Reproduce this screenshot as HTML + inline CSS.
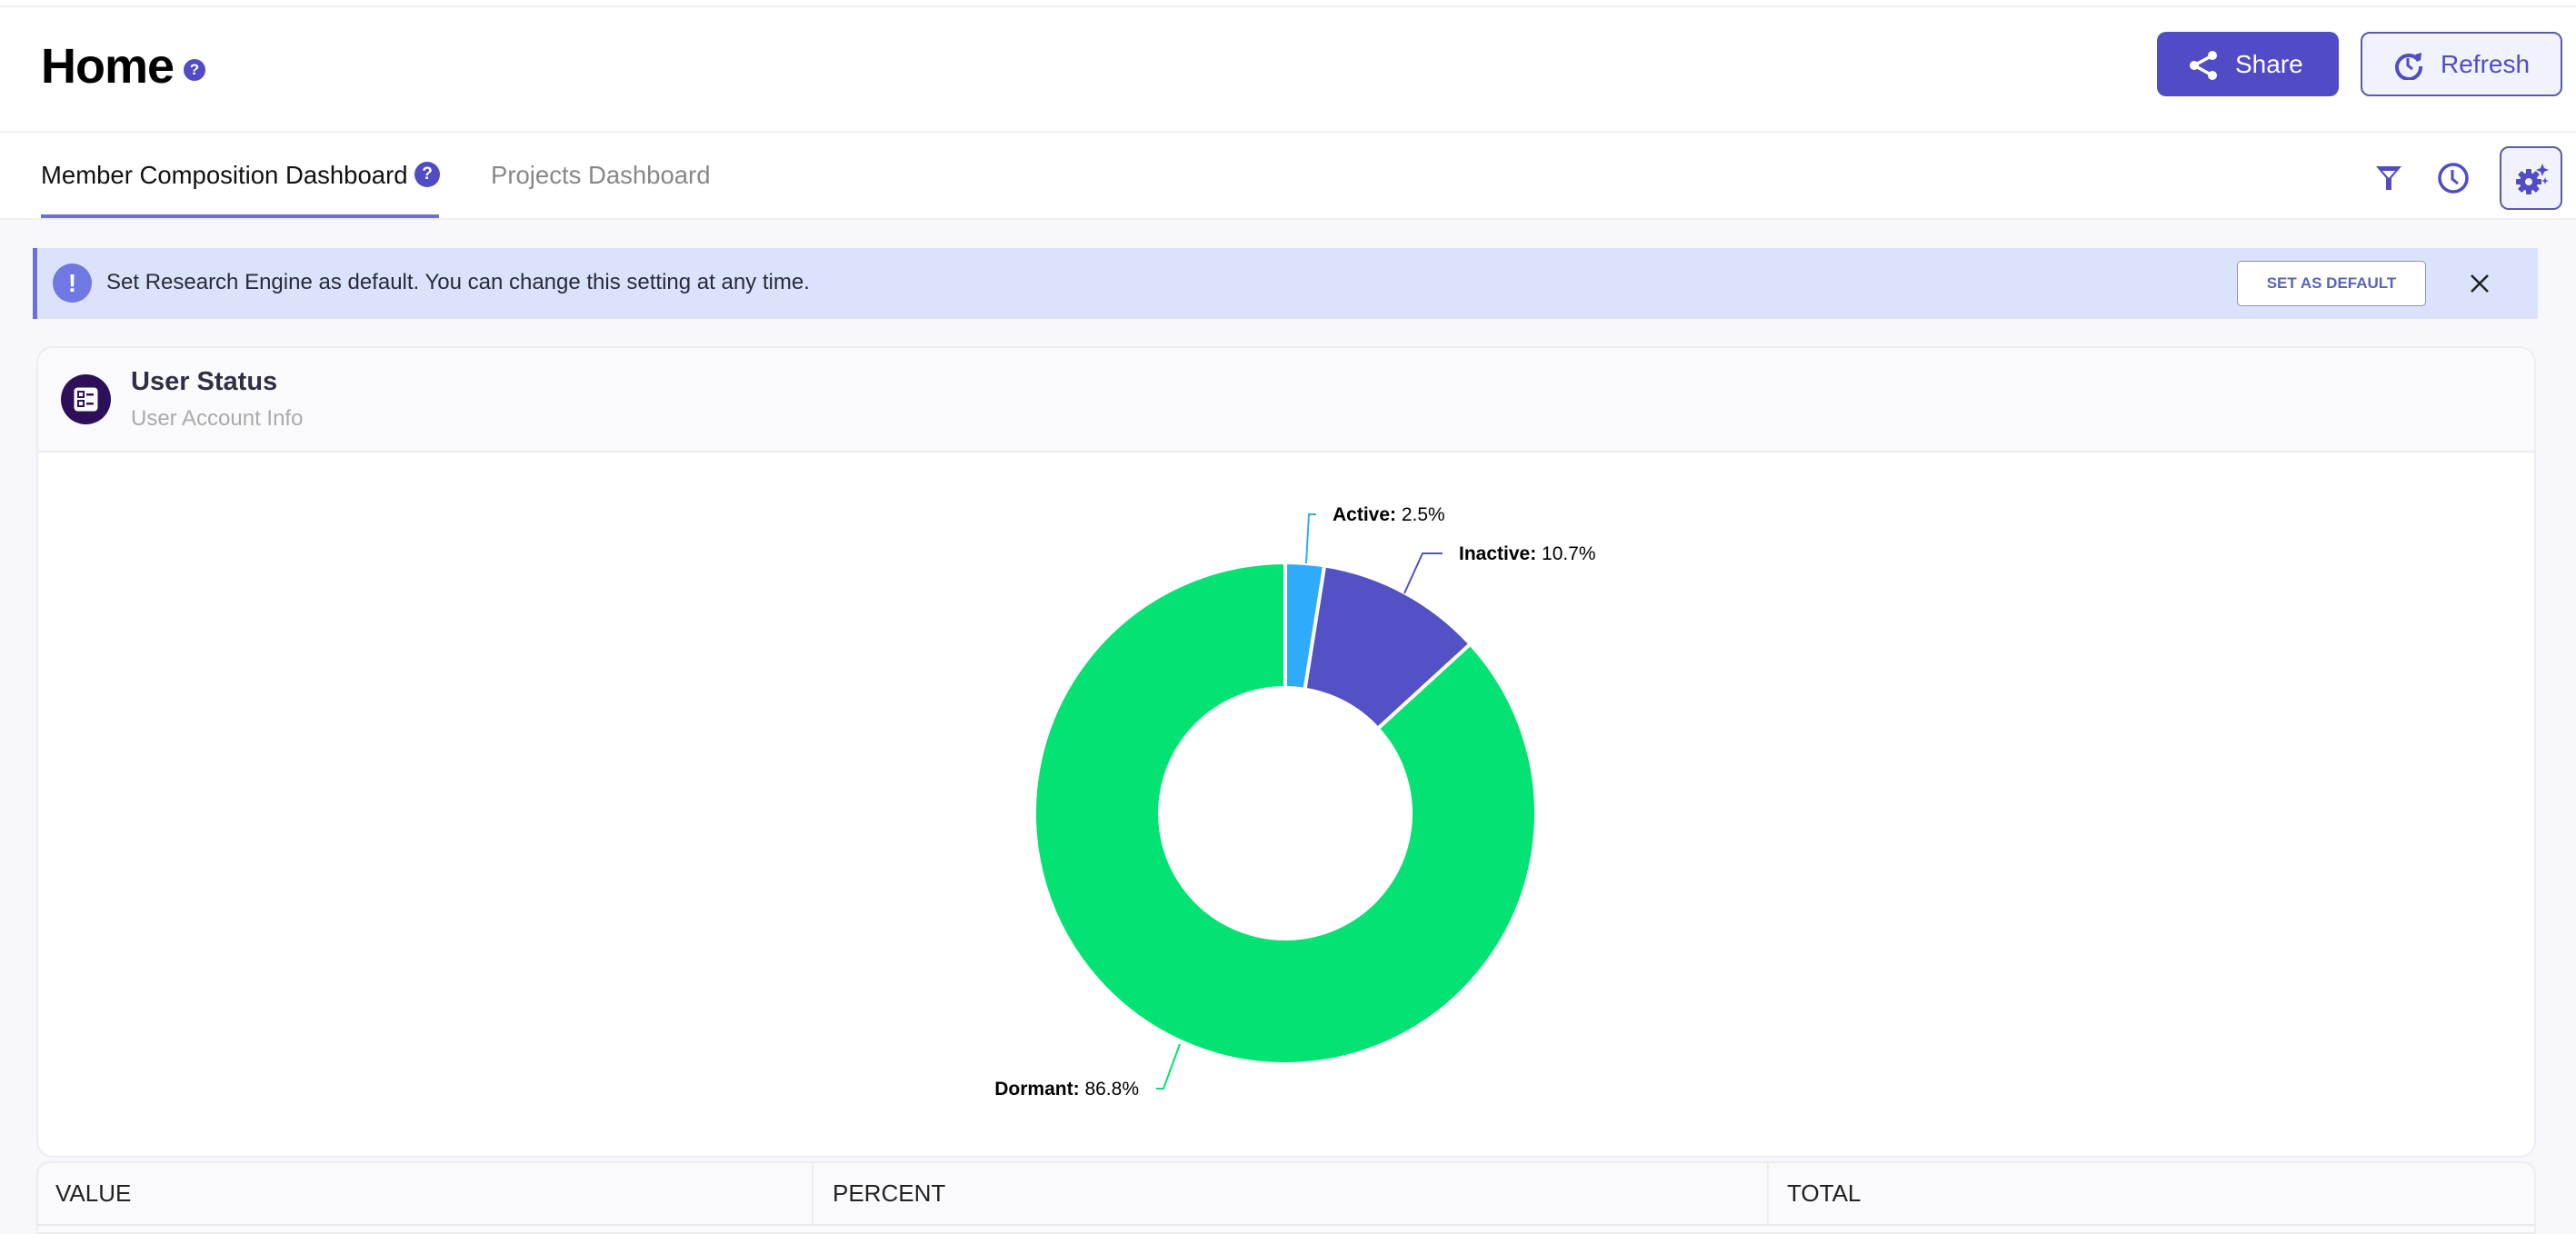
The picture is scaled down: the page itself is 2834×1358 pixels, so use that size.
<!DOCTYPE html>
<html><head><meta charset="utf-8"><style>
*{margin:0;padding:0;box-sizing:border-box}
body{width:2834px;height:1356px;overflow:hidden;background:#f8f8fc;font-family:"Liberation Sans",sans-serif;position:relative}
.abs{position:absolute}
.help{display:inline-block;border-radius:50%;background:#524bc6;color:#fff;font-weight:bold;text-align:center}
</style></head><body>
<div class="abs" style="left:0;top:0;width:2834px;height:242px;background:#fff"></div>
<div class="abs" style="left:0;top:6px;width:2834px;height:2px;background:#eeeef2"></div>
<div class="abs" style="left:0;top:144px;width:2834px;height:2px;background:#eeeef2"></div>
<div class="abs" style="left:0;top:240px;width:2834px;height:2px;background:#eeeef2"></div>
<div class="abs" style="left:45px;top:42px;font-size:54px;font-weight:bold;color:#000;letter-spacing:-1px">Home</div>
<div class="abs help" style="left:202px;top:65px;width:24px;height:24px;font-size:17px;line-height:24px">?</div>
<!-- Share -->
<div class="abs" style="left:2373px;top:35px;width:200px;height:71px;background:#524bc6;border-radius:10px;color:#fff;font-size:28px;line-height:71px">
<svg class="abs" style="left:34px;top:20px" width="34" height="34" viewBox="0 0 34 34"><circle cx="27" cy="6" r="5" fill="#fff"/><circle cx="7" cy="17" r="5" fill="#fff"/><circle cx="27" cy="28" r="5" fill="#fff"/><path d="M27 6L7 17L27 28" stroke="#fff" stroke-width="3.5" fill="none"/></svg>
<span class="abs" style="left:86px">Share</span></div>
<!-- Refresh -->
<div class="abs" style="left:2597px;top:35px;width:222px;height:71px;background:#f0f2fc;border:2px solid #5b5aa8;border-radius:10px;color:#524bc6;font-size:28px;line-height:67px">
<svg class="abs" style="left:34px;top:17px" width="34" height="34" viewBox="0 0 34 34"><path d="M28 13A13 13 0 1 0 30 19" stroke="#524bc6" stroke-width="4" fill="none"/><path d="M24 6L31 4L30 13Z" fill="#524bc6"/><path d="M16 10V18L21 22" stroke="#524bc6" stroke-width="3" fill="none"/></svg>
<span class="abs" style="left:86px">Refresh</span></div>
<!-- Tabs -->
<div class="abs" style="left:45px;top:177px;font-size:27.5px;color:#111">Member Composition Dashboard</div>
<div class="abs help" style="left:456px;top:178px;width:28px;height:28px;font-size:19px;line-height:28px;left:456px">?</div>
<div class="abs" style="left:540px;top:177px;font-size:27.5px;color:#888">Projects Dashboard</div>
<div class="abs" style="left:45px;top:236px;width:438px;height:4px;background:#6b6fd6"></div>
<svg class="abs" style="left:2612px;top:180px" width="32" height="32" viewBox="0 0 32 32"><path d="M2 3H30L19 16V29H13V16Z" fill="#524bc6"/><path d="M9 8H23L16 16Z" fill="#fff"/></svg>
<svg class="abs" style="left:2680px;top:177px" width="38" height="38" viewBox="0 0 38 38"><circle cx="19" cy="19" r="15" stroke="#524bc6" stroke-width="3.5" fill="none"/><path d="M18 10V20L24 25" stroke="#524bc6" stroke-width="3" fill="none"/></svg>
<div class="abs" style="left:2750px;top:161px;width:69px;height:70px;background:#f0f2fc;border:2px solid #5b5aa8;border-radius:10px">
<svg class="abs" style="left:14px;top:15px" width="40" height="40" viewBox="0 0 40 40"><g fill="#524bc6"><circle cx="16" cy="22" r="10"/><rect x="13" y="8" width="6" height="28" rx="1"/><rect x="2" y="19" width="28" height="6" rx="1"/><rect x="13" y="8" width="6" height="28" rx="1" transform="rotate(45 16 22)"/><rect x="13" y="8" width="6" height="28" rx="1" transform="rotate(-45 16 22)"/></g><circle cx="16" cy="22" r="4" fill="#f0f2fc"/><path d="M31 2L33 7L38 9L33 11L31 16L29 11L24 9L29 7Z" fill="#524bc6"/><path d="M34 17L35 20L38 21L35 22L34 25L33 22L30 21L33 20Z" fill="#524bc6"/></svg></div>
<!-- Banner -->
<div class="abs" style="left:36px;top:273px;width:2756px;height:78px;background:#dbe3fc;border-left:5px solid #6b6fd6"></div>
<div class="abs" style="left:58px;top:290px;width:43px;height:43px;border-radius:50%;background:#6f78e3;color:#fff;font-weight:bold;font-size:28px;text-align:center;line-height:43px">!</div>
<div class="abs" style="left:117px;top:297px;font-size:24px;color:#2a2a3a">Set Research Engine as default. You can change this setting at any time.</div>
<div class="abs" style="left:2461px;top:287px;width:208px;height:50px;background:#fff;border:1.5px solid #8a8fc4;border-radius:5px;color:#5b63b8;font-size:17px;font-weight:bold;text-align:center;line-height:47px">SET AS DEFAULT</div>
<svg class="abs" style="left:2716px;top:300px" width="24" height="24" viewBox="0 0 24 24"><path d="M3 3L21 21M21 3L3 21" stroke="#222" stroke-width="2.6"/></svg>
<!-- Card -->
<div class="abs" style="left:40px;top:381px;width:2750px;height:893px;background:#fff;border:2px solid #ececf2;border-radius:18px;overflow:hidden">
<div class="abs" style="left:0;top:0;width:2750px;height:115px;background:#fafafd;border-bottom:2px solid #ececf2"></div>
</div>
<div class="abs" style="left:67px;top:412px;width:55px;height:55px;border-radius:50%;background:#2d0f5a">
<svg class="abs" style="left:13px;top:13px" width="29" height="29" viewBox="0 0 29 29"><rect x="1.5" y="1.5" width="26" height="26" rx="4" fill="#fff"/><rect x="6" y="6" width="6" height="6" fill="none" stroke="#2d0f5a" stroke-width="2"/><rect x="6" y="16" width="6" height="6" fill="none" stroke="#2d0f5a" stroke-width="2"/><rect x="15" y="8" width="8" height="2.5" fill="#2d0f5a"/><rect x="15" y="18" width="8" height="2.5" fill="#2d0f5a"/></svg></div>
<div class="abs" style="left:144px;top:404px;font-size:29px;font-weight:bold;color:#2f2f45">User Status</div>
<div class="abs" style="left:144px;top:447px;font-size:24px;color:#aaa">User Account Info</div>
<!-- Chart -->
<svg class="abs" style="left:0;top:0" width="2834" height="1356">
<path d="M1414 619A276 276 0 0 1 1457.2 622.4L1435.6 758.7A138 138 0 0 0 1414 757Z" fill="#2eacfb" stroke="#fff" stroke-width="4" stroke-linejoin="round"/>
<path d="M1457.2 622.4A276 276 0 0 1 1617.6 708.7L1515.8 801.8A138 138 0 0 0 1435.6 758.7Z" fill="#5450c6" stroke="#fff" stroke-width="4" stroke-linejoin="round"/>
<path d="M1617.6 708.7A276 276 0 1 1 1414 619L1414 757A138 138 0 1 0 1515.8 801.8Z" fill="#03e272" stroke="#fff" stroke-width="4" stroke-linejoin="round"/>
<path d="M1437 620L1440 566H1448" stroke="#2eacfb" stroke-width="2" fill="none"/>
<path d="M1545 653L1565 609H1587" stroke="#5450c6" stroke-width="2" fill="none"/>
<path d="M1298 1149L1280 1198H1272" stroke="#03e272" stroke-width="2" fill="none"/>
<g font-family="Liberation Sans, sans-serif" font-size="21" fill="#000">
<text x="1466" y="573"><tspan font-weight="bold">Active:</tspan> 2.5%</text>
<text x="1605" y="616"><tspan font-weight="bold">Inactive:</tspan> 10.7%</text>
<text x="1253" y="1205" text-anchor="end"><tspan font-weight="bold">Dormant:</tspan> 86.8%</text>
</g></svg>
<!-- Table header -->
<div class="abs" style="left:40px;top:1278px;width:2750px;height:80px;background:#fafafd;border:2px solid #ececf2;border-radius:14px 14px 0 0"></div>
<div class="abs" style="left:40px;top:1347px;width:2750px;height:2px;background:#e8e8ee"></div>
<div class="abs" style="left:893px;top:1280px;width:1.5px;height:68px;background:#ececf2"></div>
<div class="abs" style="left:1944px;top:1280px;width:1.5px;height:68px;background:#ececf2"></div>
<div class="abs" style="left:61px;top:1298px;font-size:26px;color:#222">VALUE</div>
<div class="abs" style="left:916px;top:1298px;font-size:26px;color:#222">PERCENT</div>
<div class="abs" style="left:1966px;top:1298px;font-size:26px;color:#222">TOTAL</div>
</body></html>
